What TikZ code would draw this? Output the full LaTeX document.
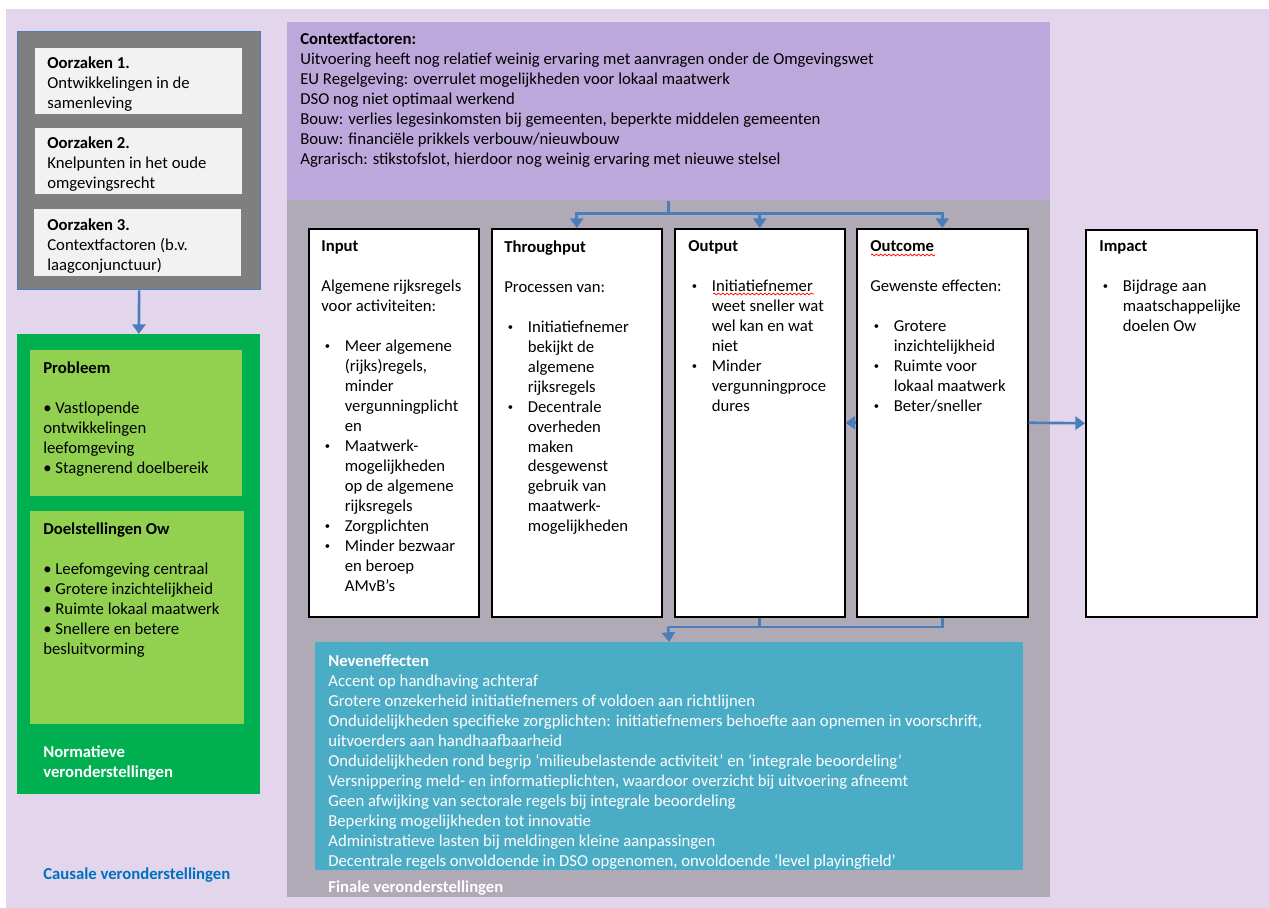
\documentclass[tikz,border=0pt]{standalone}
\usepackage{fontspec}
\setmainfont{Carlito}
\usepackage{xcolor}
\usepackage{tikz}
\usetikzlibrary{arrows.meta,decorations.pathmorphing}
\definecolor{BgLila}{HTML}{E2D5EC}
\definecolor{CtxPaars}{HTML}{BDA8DC}
\definecolor{PanGrijs}{HTML}{B0AAB7}
\definecolor{DonkGrijs}{HTML}{7F7F7F}
\definecolor{LichtGrijs}{HTML}{F2F2F2}
\definecolor{Groen}{HTML}{00B050}
\definecolor{LichtGroen}{HTML}{92D050}
\definecolor{Teal}{HTML}{4BACC6}
\definecolor{PijlBlauw}{HTML}{4A7EBB}
\definecolor{TekstBlauw}{HTML}{0070C0}
\newcommand{\fs}{\fontsize{9.5}{11.38}\selectfont}
\newcommand{\bl}{\makebox[0.47cm][l]{\hspace{0.07cm}\raisebox{0.25ex}{\fontsize{6}{6}\selectfont\textbullet}}}
\newcommand{\ct}{\hspace*{0.47cm}}

\begin{document}
\begin{tikzpicture}[x=0.02cm, y=-0.02cm,
  txt/.style={anchor=north west, inner sep=0pt, align=left, font=\fs, execute at begin node=\strut},
  box/.style={draw=black, line width=0.9pt, fill=white, inner sep=0pt, anchor=north west},
  lijn/.style={draw=PijlBlauw, line width=1.5pt},
  arr/.style={lijn, -{Triangle[width=7.5pt,length=5.5pt]}},
  wavy/.style={draw=red, line width=0.4pt, decorate, decoration={snake, amplitude=0.5pt, segment length=2.4pt}}]%
\useasboundingbox (0,0) rectangle (1269,908);%
\fill[BgLila] (6,9) rectangle (1269,908);%
% oorzaken
\node[draw=PijlBlauw, line width=0.8pt, fill=DonkGrijs, inner sep=0pt, anchor=north west, minimum width=4.86cm, minimum height=5.16cm] (oorz) at (17,31) {};%
\fill[LichtGrijs] (35,48) rectangle (242,114);%
\fill[LichtGrijs] (35,128) rectangle (242,194);%
\fill[LichtGrijs] (34,209) rectangle (241,276);%
\node[txt] (oorz1) at (47,56) {\textbf{Oorzaken 1.}\\Ontwikkelingen in de\\samenleving};%
\node[txt] (oorz2) at (47,136) {\textbf{Oorzaken 2.}\\Knelpunten in het oude\\omgevingsrecht};%
\node[txt] (oorz3) at (47,218) {\textbf{Oorzaken 3.}\\Contextfactoren (b.v.\\laagconjunctuur)};%
% normatief
\node[fill=Groen, inner sep=0pt, anchor=north west, minimum width=4.86cm, minimum height=9.2cm] (groen) at (17,334) {};%
\fill[LichtGroen] (30,350) rectangle (242,496);%
\fill[LichtGroen] (30,511) rectangle (244,724);%
\node[txt] (probleem) at (43,361) {\textbf{Probleem}\\\mbox{}\\\textbullet{} Vastlopende\\ontwikkelingen\\leefomgeving\\\textbullet{} Stagnerend doelbereik};%
\node[txt] (doelen) at (43,522) {\textbf{Doelstellingen Ow}\\\mbox{}\\\textbullet{} Leefomgeving centraal\\\textbullet{} Grotere inzichtelijkheid\\\textbullet{} Ruimte lokaal maatwerk\\\textbullet{} Snellere en betere\\besluitvorming};%
\node[txt, text=white] (normatief) at (43,745) {\textbf{Normatieve}\\\textbf{veronderstellingen}};%
\node[txt, text=TekstBlauw] (causaal) at (43,865) {\textbf{Causale veronderstellingen}};%
\draw[arr] (oorz.south) -- (groen.north);%
% context en keten
\fill[PanGrijs] (287,200) rectangle (1050,897);%
\node[fill=CtxPaars, inner sep=0pt, anchor=north west, minimum width=15.26cm, minimum height=3.56cm] (context) at (287,22) {};%
\node[txt] (ctxtekst) at (300,33) {\textbf{Contextfactoren:}\\Uitvoering heeft nog relatief weinig ervaring met aanvragen onder de Omgevingswet\\EU Regelgeving: overrulet mogelijkheden voor lokaal maatwerk\\DSO nog niet optimaal werkend\\Bouw: verlies legesinkomsten bij gemeenten, beperkte middelen gemeenten\\Bouw: financiële prikkels verbouw/nieuwbouw\\Agrarisch: stikstofslot, hierdoor nog weinig ervaring met nieuwe stelsel};%
\node[box, minimum width=3.40cm, minimum height=7.76cm] (input) at (308,228) {};%
\node[box, minimum width=3.40cm, minimum height=7.76cm] (through) at (491,228) {};%
\node[box, minimum width=3.40cm, minimum height=7.76cm] (outp) at (674,228) {};%
\node[box, minimum width=3.42cm, minimum height=7.76cm] (outc) at (856,228) {};%
\node[box, minimum width=3.42cm, minimum height=7.74cm] (impact) at (1085,229) {};%
\node[txt] (inputtekst) at (321,240) {\textbf{Input}\\\mbox{}\\Algemene rijksregels\\voor activiteiten:\\\mbox{}\\\bl Meer algemene\\\ct(rijks)regels,\\\ct minder\\\ct vergunningplicht\\\ct en\\\bl Maatwerk-\\\ct mogelijkheden\\\ct op de algemene\\\ct rijksregels\\\bl Zorgplichten\\\bl Minder bezwaar\\\ct en beroep\\\ct AMvB’s};%
\node[txt] (throughtekst) at (504,240) {\textbf{Throughput}\\\mbox{}\\Processen van:\\\mbox{}\\\bl Initiatiefnemer\\\ct bekijkt de\\\ct algemene\\\ct rijksregels\\\bl Decentrale\\\ct overheden\\\ct maken\\\ct desgewenst\\\ct gebruik van\\\ct maatwerk-\\\ct mogelijkheden};%
\node[txt] (outptekst) at (688,240) {\textbf{Output}\\\mbox{}\\\bl Initiatiefnemer\\\ct weet sneller wat\\\ct wel kan en wat\\\ct niet\\\bl Minder\\\ct vergunningproce\\\ct dures};%
\node[txt] (outctekst) at (870,240) {\textbf{Outcome}\\\mbox{}\\Gewenste effecten:\\\mbox{}\\\bl Grotere\\\ct inzichtelijkheid\\\bl Ruimte voor\\\ct lokaal maatwerk\\\bl Beter/sneller};%
\node[txt] (impacttekst) at (1099,240) {\textbf{Impact}\\\mbox{}\\\bl Bijdrage aan\\\ct maatschappelijke\\\ct doelen Ow};%
\draw[wavy] (871,255) -- (935,255);%
\draw[wavy] (713,294) -- (814,294);%
\draw[lijn] (context.south) -- ++(0,13) coordinate (splits);%
\draw[arr] (splits) -| (through.north);%
\draw[arr] (splits) -| (outp.north);%
\draw[arr] (splits) -| (outc.north);%
\draw[arr] (outc.west) -- (outp.east);%
\draw[arr] (outc.east) -- (impact.west);%
% neveneffecten
\node[fill=Teal, inner sep=0pt, anchor=north west, minimum width=14.16cm, minimum height=4.56cm] (neven) at (315,642) {};%
\node[txt, text=white] (neventekst) at (328,654) {\textbf{Neveneffecten}\\Accent op handhaving achteraf\\Grotere onzekerheid initiatiefnemers of voldoen aan richtlijnen\\Onduidelijkheden specifieke zorgplichten: initiatiefnemers behoefte aan opnemen in voorschrift,\\uitvoerders aan handhaafbaarheid\\Onduidelijkheden rond begrip ‘milieubelastende activiteit’ en ‘integrale beoordeling’\\Versnippering meld- en informatieplichten, waardoor overzicht bij uitvoering afneemt\\Geen afwijking van sectorale regels bij integrale beoordeling\\Beperking mogelijkheden tot innovatie\\Administratieve lasten bij meldingen kleine aanpassingen\\Decentrale regels onvoldoende in DSO opgenomen, onvoldoende ‘level playingfield’};%
\node[txt, text=white] (finaal) at (328,878) {\textbf{Finale veronderstellingen}};%
\coordinate (samen) at (668,627);%
\draw[lijn] (outc.south) |- (samen);%
\draw[lijn] (outp.south) -- (outp.south |- samen);%
\draw[arr] (samen) -- (neven.north);%
\end{tikzpicture}
\end{document}
